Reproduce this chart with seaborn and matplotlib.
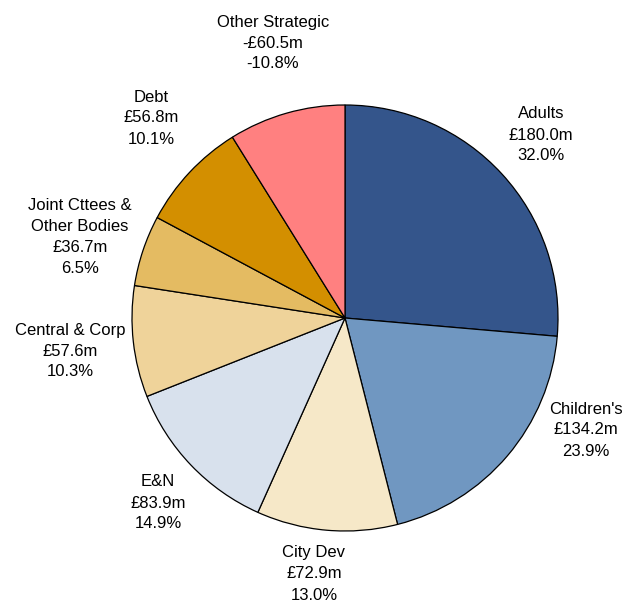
import matplotlib
matplotlib.use("Agg")
import matplotlib.pyplot as plt
import seaborn as sns

# ==========================
# Data
# ==========================

categories = [
    "Adults",
    "Children's",
    "City Dev",
    "E&N",
    "Central & Corp",
    "Joint Cttees &\nOther Bodies",
    "Debt",
    "Other Strategic",
]

amounts = [180.0, 134.2, 72.9, 83.9, 57.6, 36.7, 56.8, -60.5]

# share of net budget, as printed on the chart
percents = [32.0, 23.9, 13.0, 14.9, 10.3, 6.5, 10.1, -10.8]

colors = [
    "#34558B",
    "#7097C1",
    "#F6E8C8",
    "#D8E1ED",
    "#EFD39A",
    "#E4BB62",
    "#D38F00",
    "#FF8080",
]

# label centres in figure pixels (layout only)
label_pos = [
    (541, 135),
    (586, 430),
    (314, 574),
    (158, 503),
    (70, 351),
    (80, 237),
    (151, 118),
    (273, 43),
]

# ==========================
# Plot
# ==========================

sns.set_theme(style="white")
plt.rcParams["font.family"] = ["Liberation Sans", "DejaVu Sans"]

W, H = 625, 603
fig = plt.figure(figsize=(W / 100, H / 100), dpi=100)
ax = fig.add_axes([0, 0, 1, 1])

sizes = [abs(a) for a in amounts]

ax.pie(
    sizes,
    colors=colors,
    startangle=90,
    counterclock=False,
    center=(345, H - 318),
    radius=213,
    wedgeprops={"edgecolor": "black", "linewidth": 0.9},
    frame=True,
)

for name, amt, pct, (px, py) in zip(categories, amounts, percents, label_pos):
    sign = "-" if amt < 0 else ""
    txt = f"{name}\n{sign}£{abs(amt):.1f}m\n{pct:.1f}%"
    ax.text(
        px,
        H - py,
        txt,
        ha="center",
        va="center",
        fontsize=12,
        linespacing=1.5,
        color="black",
    )

ax.set_xlim(0, W)
ax.set_ylim(0, H)
ax.set_aspect("equal")
ax.axis("off")

fig.savefig("out.png", dpi=100)
